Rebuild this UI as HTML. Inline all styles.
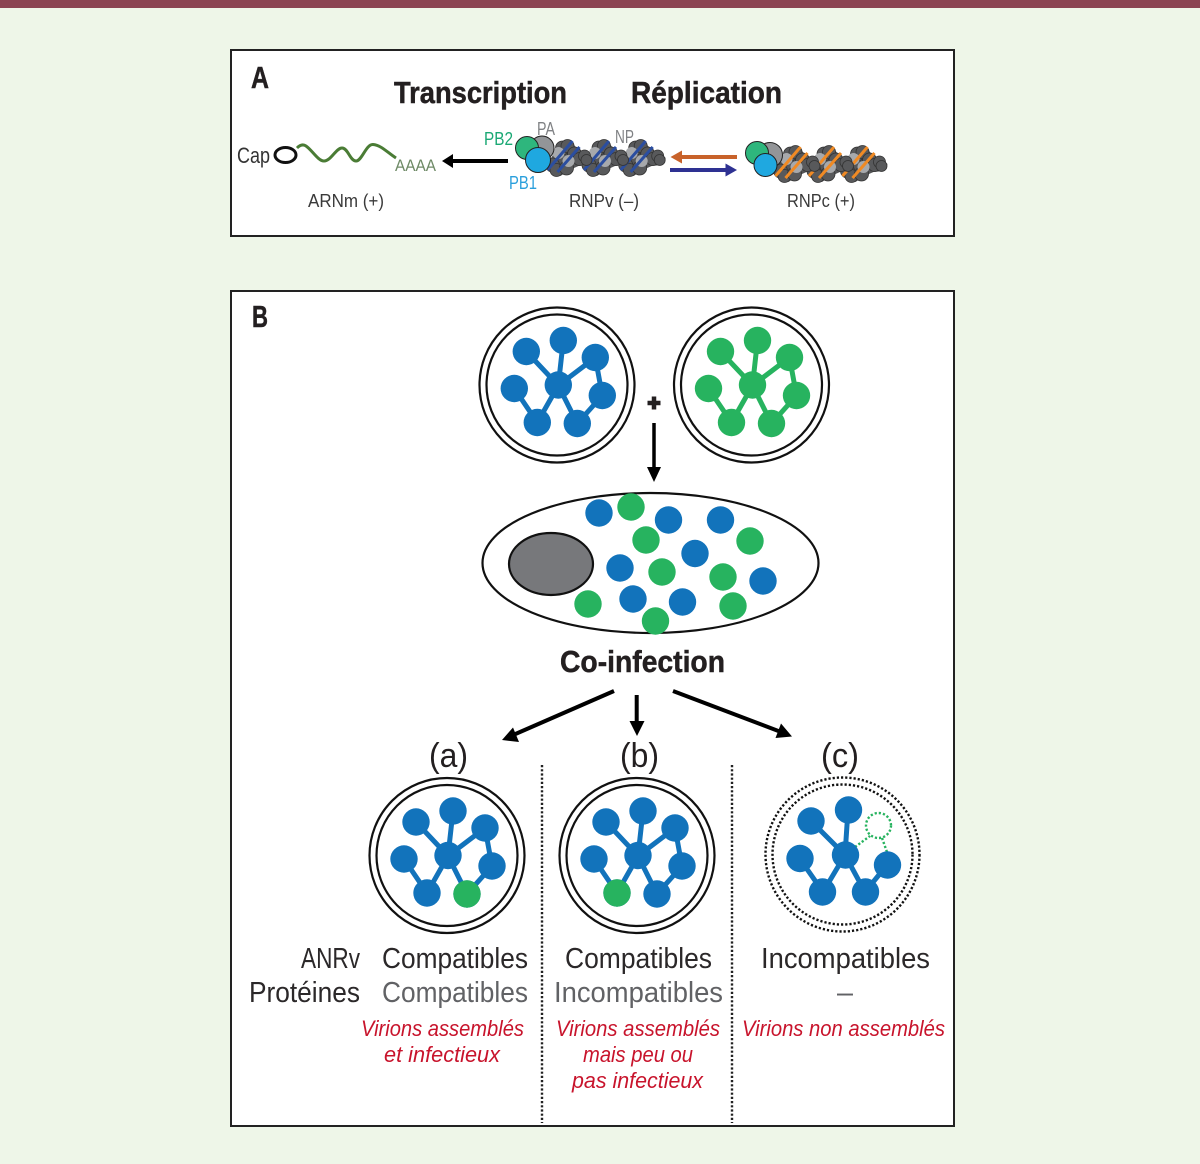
<!DOCTYPE html>
<html><head><meta charset="utf-8"><style>
html,body{margin:0;padding:0;background:#eef6e8}
svg{display:block}
text{font-family:"Liberation Sans",sans-serif}
.b{font-weight:bold;fill:#231f20;font-size:31px;stroke:#231f20;stroke-width:.5px}
.n{fill:#2b2829;font-size:29px}
.g{fill:#616265;font-size:29px}
.s{fill:#3a3a3a;font-size:18px}
.r{fill:#c8142c;font-size:22.5px;font-style:italic}
</style></head><body>
<svg width="1200" height="1164" viewBox="0 0 1200 1164" xmlns="http://www.w3.org/2000/svg">
<defs>
<g id="v" fill="currentColor" stroke="none">
 <g stroke="currentColor" stroke-width="5" fill="none">
  <path d="M-31,-33L1,1M6,-44L1,1M38,-27L1,1M38,-27L45,11M45,11L20,39M1,1L20,39M1,1L-20,38M-20,38L-43,4"/>
 </g>
 <circle cx="-31" cy="-33" r="13.7"/><circle cx="6" cy="-44" r="13.7"/><circle cx="38" cy="-27" r="13.7"/>
 <circle cx="-43" cy="4" r="13.7"/><circle cx="1" cy="0.5" r="13.7"/><circle cx="45" cy="11" r="13.7"/>
 <circle cx="-20" cy="38" r="13.7"/><circle cx="20" cy="39" r="13.7"/>
</g>
<g id="rings" fill="none" stroke="#111" stroke-width="2.2">
 <circle r="77.5"/><circle r="70.5"/>
</g>
<g id="unit">
 <path d="M-17,9L-3,-15L6,-17L17,-5L20,0L24,-4L29,1L26,8L15,9L6,13L-3,19L-12,15Z" fill="#555658"/>
 <g fill="#58595b" stroke="#333" stroke-width="0.8">
  <circle cx="-11" cy="8" r="7"/><circle cx="-7" cy="13" r="6.5"/>
  <circle cx="-1" cy="-9" r="7"/><circle cx="4" cy="-11" r="6.500"/>
  <circle cx="11" cy="-3" r="7"/><circle cx="3" cy="11" r="7"/>
  <circle cx="16" cy="2" r="6.500"/><circle cx="21" cy="-1" r="6"/><circle cx="23" cy="3" r="5.500"/>
 </g>
 <circle cx="-5" cy="-4" r="6" fill="#a7a9ac"/><circle cx="5" cy="4" r="6" fill="#a7a9ac"/>
 <path d="M-16,13L9,-16M-6,15L16,-10" stroke="currentColor" stroke-width="3" fill="none"/>
</g>
</defs>
<rect width="1200" height="1164" fill="#eef6e8"/>
<rect width="1200" height="8" fill="#8b4452"/>
<rect x="231" y="50" width="723" height="186" fill="#fff" stroke="#222" stroke-width="2"/>
<rect x="231" y="291" width="723" height="835" fill="#fff" stroke="#222" stroke-width="2"/>

<!-- Panel A -->
<text class="b" x="251" y="88" textLength="18" lengthAdjust="spacingAndGlyphs">A</text>
<text class="b" x="394" y="103" textLength="173" lengthAdjust="spacingAndGlyphs">Transcription</text>
<text class="b" x="631" y="103" textLength="151" lengthAdjust="spacingAndGlyphs">Réplication</text>
<text x="237" y="163" font-size="22" fill="#333" textLength="33" lengthAdjust="spacingAndGlyphs">Cap</text>
<ellipse cx="285.5" cy="155" rx="10.5" ry="7.5" fill="#fff" stroke="#111" stroke-width="3"/>
<path d="M297,148C300,145 303,144 306,146C312,150 318,161 324,161C331,161 336,148 342,148C348,148 350,161 356,161C362,161 366,144 373,144.500C381,145 388,153 396,158" fill="none" stroke="#4a7c35" stroke-width="3"/>
<text x="395" y="171" font-size="17" fill="#6e8a66" textLength="41" lengthAdjust="spacingAndGlyphs">AAAA</text>
<text class="s" x="308" y="207" textLength="76" lengthAdjust="spacingAndGlyphs">ARNm (+)</text>
<path d="M508,161H450" stroke="#000" stroke-width="4"/><path d="M442,161L453,154V168Z" fill="#000"/>
<text x="484" y="145" font-size="18" fill="#1aa874" textLength="29" lengthAdjust="spacingAndGlyphs">PB2</text>
<text x="537" y="135" font-size="18" fill="#808285" textLength="18" lengthAdjust="spacingAndGlyphs">PA</text>
<text x="509" y="189" font-size="18" fill="#2a9fdc" textLength="28" lengthAdjust="spacingAndGlyphs">PB1</text>
<text x="615" y="143" font-size="18" fill="#808285" textLength="19" lengthAdjust="spacingAndGlyphs">NP</text>
<g color="#2b4ea0">
 <use href="#unit" x="636.7" y="157"/><use href="#unit" x="600" y="157"/><use href="#unit" x="563.5" y="157"/>
</g>
<g stroke="#222" stroke-width="1">
 <circle cx="542" cy="148" r="12" fill="#939598"/><circle cx="527" cy="148" r="11.500" fill="#2eb67d"/><circle cx="538" cy="160" r="12.500" fill="#1fa8e0"/>
</g>
<text class="s" x="569" y="207" textLength="70" lengthAdjust="spacingAndGlyphs">RNPv (–)</text>
<path d="M737,157H677" stroke="#c8622a" stroke-width="4"/><path d="M670.5,157L682,150.500V163.500Z" fill="#c8622a"/>
<path d="M670,170H730" stroke="#2e3192" stroke-width="4"/><path d="M737,170L725.5,163.500V176.500Z" fill="#2e3192"/>
<g color="#f08a24">
 <use href="#unit" x="858.5" y="163"/><use href="#unit" x="825" y="163"/><use href="#unit" x="791.5" y="163"/>
</g>
<g stroke="#222" stroke-width="1">
 <circle cx="770" cy="155" r="12.500" fill="#939598"/><circle cx="757" cy="153" r="11.500" fill="#2eb67d"/><circle cx="765.5" cy="165" r="11.500" fill="#1fa8e0"/>
</g>
<text class="s" x="787" y="207" textLength="68" lengthAdjust="spacingAndGlyphs">RNPc (+)</text>

<!-- Panel B -->
<text class="b" x="252" y="327" textLength="16" lengthAdjust="spacingAndGlyphs">B</text>
<use href="#rings" x="557" y="385"/><use href="#v" x="557.3" y="384.5" color="#1273bb"/>
<use href="#rings" x="751.5" y="385"/><use href="#v" x="751.5" y="384.5" color="#27b35f"/>
<path d="M647.500,403H660.500M654,396.500V409.500" stroke="#231f20" stroke-width="4.500"/>
<path d="M654,423V470" stroke="#000" stroke-width="3.500"/><path d="M654,482L647,467H661Z" fill="#000"/>

<ellipse cx="650.5" cy="563" rx="168" ry="70" fill="#fff" stroke="#111" stroke-width="2.200"/>
<ellipse cx="551" cy="564" rx="42" ry="31" fill="#77787b" stroke="#111" stroke-width="2.200"/>
<g fill="#1273bb">
 <circle cx="599" cy="513" r="13.7"/><circle cx="668.500" cy="520" r="13.7"/><circle cx="720.500" cy="520" r="13.7"/><circle cx="695" cy="553.500" r="13.7"/>
 <circle cx="620" cy="568" r="13.7"/><circle cx="763" cy="581" r="13.7"/><circle cx="633" cy="599" r="13.7"/><circle cx="682.500" cy="602" r="13.7"/>
</g>
<g fill="#27b35f">
 <circle cx="631" cy="507" r="13.7"/><circle cx="646" cy="540" r="13.7"/><circle cx="750" cy="541" r="13.7"/><circle cx="662" cy="572" r="13.7"/>
 <circle cx="723" cy="577" r="13.7"/><circle cx="588" cy="604" r="13.7"/><circle cx="733" cy="606" r="13.7"/><circle cx="655.500" cy="621" r="13.7"/>
</g>
<text class="b" x="560" y="672" textLength="165" lengthAdjust="spacingAndGlyphs">Co-infection</text>

<g stroke="#000" stroke-width="4">
 <path d="M614,691L512,735.500"/><path d="M636.700,695V724"/><path d="M673,691L781,732"/>
</g>
<g fill="#000">
 <path d="M502,740L513,727.500L519,742Z"/><path d="M637,736L629.500,721H644.500Z"/><path d="M792,736.500L775.500,738L781,723.500Z"/>
</g>
<text x="429" y="767" fill="#231f20" style="font-size:34px" textLength="39" lengthAdjust="spacingAndGlyphs">(a)</text>
<text x="620" y="767" fill="#231f20" style="font-size:34px" textLength="39" lengthAdjust="spacingAndGlyphs">(b)</text>
<text x="821" y="767" fill="#231f20" style="font-size:34px" textLength="38" lengthAdjust="spacingAndGlyphs">(c)</text>

<use href="#rings" x="447" y="855.500"/><use href="#v" x="447" y="855" color="#1273bb"/>
<circle cx="467" cy="894" r="13.7" fill="#27b35f"/>
<use href="#rings" x="637" y="855.500"/><use href="#v" x="637" y="855" color="#1273bb"/>
<circle cx="617" cy="893" r="13.7" fill="#27b35f"/>

<g fill="none" stroke="#111" stroke-width="2.400" stroke-dasharray="2.200 2">
 <circle cx="842.500" cy="854.500" r="77"/><circle cx="842.500" cy="854.500" r="70"/>
</g>
<g fill="none" stroke="#27b35f" stroke-width="2.400" stroke-dasharray="2.200 2">
 <circle cx="878.500" cy="825.500" r="12.500"/><path d="M855,847L870,836M882,838L887,852"/>
</g>
<g stroke="#1273bb" stroke-width="5" fill="none">
 <path d="M811,821L845,855M848,810L845,855M845,855L865,892M845,855L823,892M823,892L800,859M865,892L887,865"/>
</g>
<g fill="#1273bb">
 <circle cx="811" cy="821" r="13.7"/><circle cx="848.500" cy="810" r="13.7"/><circle cx="800" cy="858.500" r="13.7"/><circle cx="845.500" cy="855" r="13.7"/>
 <circle cx="887.500" cy="865" r="13.7"/><circle cx="822.500" cy="892" r="13.7"/><circle cx="865.500" cy="892" r="13.7"/>
</g>

<g stroke="#222" stroke-width="2.400" stroke-dasharray="2.200 2">
 <path d="M542,765V1123"/><path d="M732,765V1123"/>
</g>

<text class="n" x="301" y="968" textLength="59" lengthAdjust="spacingAndGlyphs">ANRv</text>
<text class="n" x="249" y="1002" textLength="111" lengthAdjust="spacingAndGlyphs">Protéines</text>
<text class="n" x="382" y="968" textLength="146" lengthAdjust="spacingAndGlyphs">Compatibles</text>
<text class="g" x="382" y="1002" textLength="146" lengthAdjust="spacingAndGlyphs">Compatibles</text>
<text class="n" x="565" y="968" textLength="147" lengthAdjust="spacingAndGlyphs">Compatibles</text>
<text class="g" x="554" y="1002" textLength="169" lengthAdjust="spacingAndGlyphs">Incompatibles</text>
<text class="n" x="761" y="968" textLength="169" lengthAdjust="spacingAndGlyphs">Incompatibles</text>
<text class="g" x="837" y="1002" textLength="16" lengthAdjust="spacingAndGlyphs">–</text>

<text class="r" x="361" y="1036" textLength="163" lengthAdjust="spacingAndGlyphs">Virions assemblés</text>
<text class="r" x="384" y="1062" textLength="116" lengthAdjust="spacingAndGlyphs">et infectieux</text>
<text class="r" x="556" y="1036" textLength="164" lengthAdjust="spacingAndGlyphs">Virions assemblés</text>
<text class="r" x="583" y="1062" textLength="110" lengthAdjust="spacingAndGlyphs">mais peu ou</text>
<text class="r" x="572" y="1088" textLength="131" lengthAdjust="spacingAndGlyphs">pas infectieux</text>
<text class="r" x="742" y="1036" textLength="203" lengthAdjust="spacingAndGlyphs">Virions non assemblés</text>
</svg>
</body></html>
